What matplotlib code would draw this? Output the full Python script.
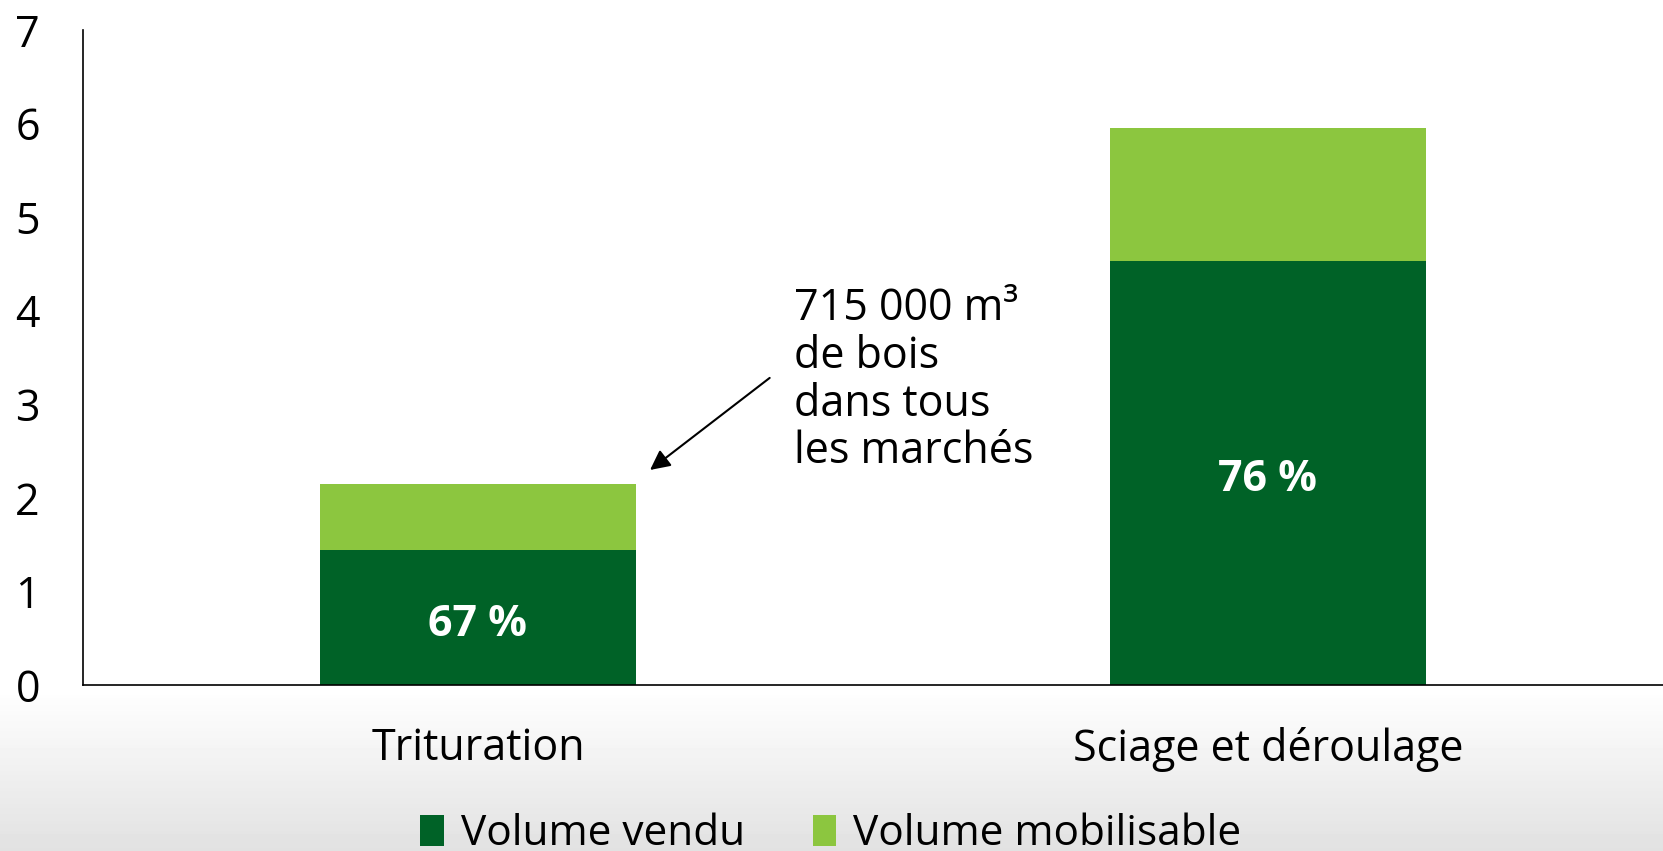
import matplotlib
matplotlib.use("Agg")
import matplotlib.pyplot as plt
import numpy as np

plt.rcParams['font.family'] = ['Open Sans', 'DejaVu Sans']

# data
categories = ["Trituration", "Sciage et déroulage"]
vendu = [1.44, 4.53]
mobilisable = [0.71, 1.42]
pct_labels = ["67 %", "76 %"]
note = "715 000 m³\nde bois\ndans tous\nles marchés"

dark = "#006227"
light = "#8cc63f"

fig = plt.figure(figsize=(16.63, 8.51), dpi=100)

# light grey gradient at the bottom of the page
bg = fig.add_axes([0, 0, 1, 1], zorder=-10)
grad = np.linspace(0, 1, 256)
shade = np.clip(grad / 0.19, 0, 1)
col = 0.885 + (1 - 0.885) * shade
img = np.repeat(col[:, None], 2, axis=1)
bg.imshow(img, cmap="gray", vmin=0, vmax=1, origin="lower", extent=[0, 1, 0, 1], aspect="auto")
bg.axis("off")

ax = fig.add_axes([83 / 1663, 1 - 685 / 851, 1 - 83 / 1663, (685 - 30) / 851])
ax.patch.set_alpha(0)
x = np.arange(len(categories))
ax.bar(x, vendu, width=0.4, color=dark, label="Volume vendu")
ax.bar(x, mobilisable, width=0.4, bottom=vendu, color=light, label="Volume mobilisable")

for i in range(len(categories)):
    ax.text(x[i], vendu[i] / 2 - 0.07, pct_labels[i], ha="center", va="center",
            color="white", fontsize=31, fontweight="bold")

ax.annotate("", xy=(0.215, 2.28), xytext=(0.372, 3.30),
            arrowprops=dict(arrowstyle="-|>", color="black", lw=1.5, mutation_scale=30))
ax.text(0.40, 4.26, note, ha="left", va="top", fontsize=31, linespacing=1.1)

ax.set_xlim(-0.5, 1.5)
ax.set_ylim(0, 7)
ax.set_yticks(range(0, 8))
ax.set_xticks(x)
ax.set_xticklabels(categories)
ax.tick_params(axis="both", length=0, labelsize=31)
ax.tick_params(axis="y", pad=31)
ax.tick_params(axis="x", pad=30)
ax.spines["top"].set_visible(False)
ax.spines["right"].set_visible(False)
ax.spines["left"].set_linewidth(1.2)
ax.spines["bottom"].set_linewidth(1.2)

fig.legend(loc="center", bbox_to_anchor=(0.4995, 0.02), ncol=2, frameon=False,
           fontsize=30.5, handlelength=0.56, handleheight=0.75, handletextpad=0.4,
           columnspacing=1.6, borderpad=0)

fig.savefig("out.png", dpi=100)
